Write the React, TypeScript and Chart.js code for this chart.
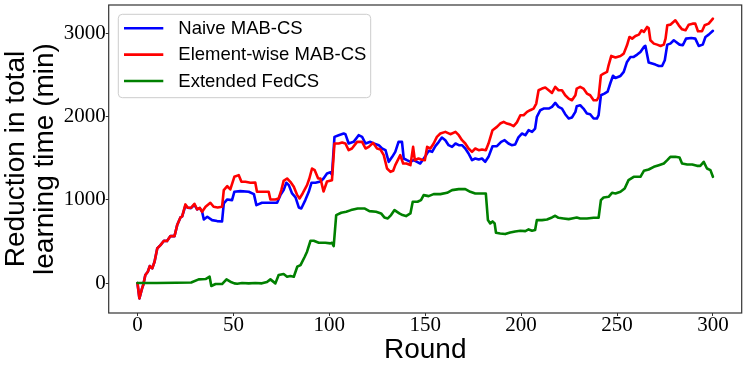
import React, { useEffect, useRef } from "react";
import { Chart, registerables } from "chart.js";

Chart.register(...registerables);

const seriesLabels = ["Naive MAB-CS", "Element-wise MAB-CS", "Extended FedCS"];
const seriesColors = ["#0000ff", "#ff0000", "#008000"];

const xTicks = [0, 50, 100, 150, 200, 250, 300];
const yTicks = [0, 1000, 2000, 3000];

const naiveRounds = [0,1,2.4,3,4.1,5.4,6.4,7.7,8.9,10.3,12,13.8,15.4,17.2,19.3,20.7,22.4,23.3,25,26.2,27.9,29.7,31.1,32.5,33.7,34.6,36.4,38.9,41.5,44.1,45,46.8,49.3,50.5,53.6,58,60.7,62,64.9,68.4,72.8,74.5,76.2,77.6,78.9,80.6,82.4,84.1,85.4,87.5,89.3,90.7,92.8,95.4,97,98.8,100.6,101.4,102.7,104.9,107.5,108.4,110.1,112.7,115.3,117.1,118.9,121.4,123.2,125.8,127.5,129.3,131,132.8,134.4,136.1,137.9,138.8,140.5,142.3,143.9,145.7,147.4,149.9,151.8,153.6,155.3,157.1,158.7,160.5,162.2,164,165.8,167.5,169.2,170.9,172.6,174.4,176.1,177.9,179.6,181.3,183,185.1,187.4,189.6,191.4,193.4,195.1,196.9,198.6,200.4,202.2,203.9,205.7,207.3,208.2,210,211.7,214.4,216.1,217.8,219.5,221.3,223,224.8,226.5,228.3,229,230.8,232.5,234.3,236,237.8,239.5,240.4,241.6,243.4,245.1,246.5,247.9,249.2,251.8,253.5,255.2,257,258.7,260.5,262.2,264,264.8,266.5,268.3,270,271.8,273.5,274.9,276.2,277.8,279.6,280.8,282.6,284.3,286,288.7,290.8,292.6,294.7,296.1,297.8,300];
const naiveValues = [0,-184,-64,-24,96,136,204,176,256,416,456,508,504,564,564,696,788,800,930,904,900,940,884,900,856,764,796,756,744,740,956,1004,996,1096,1104,1096,1068,936,964,964,964,1056,1116,1204,1176,1076,1028,908,896,996,1096,1204,1204,1220,1256,1316,1330,1300,1756,1776,1796,1788,1676,1696,1776,1756,1676,1696,1676,1656,1616,1596,1456,1516,1576,1696,1696,1496,1476,1456,1476,1456,1436,1516,1588,1576,1644,1696,1748,1716,1656,1636,1676,1656,1656,1616,1556,1476,1496,1484,1496,1456,1516,1644,1644,1696,1716,1676,1656,1664,1750,1796,1776,1836,1816,1856,1996,2076,2096,2096,2116,2164,2116,2096,2028,1976,1988,2056,2124,2136,2096,2036,2028,1976,1976,2016,2256,2276,2300,2400,2490,2464,2488,2536,2656,2716,2716,2744,2776,2836,2848,2648,2636,2624,2608,2608,2676,2864,2876,2916,2896,2864,2856,2936,2944,2936,2848,2864,2956,2984,3030];

const elementRounds = [0,1,2.4,3,4.1,5.4,6.4,7.7,8.9,10.3,12,13.8,15.4,17.2,19.3,20.7,22.4,23.3,25,26.2,27.9,29.7,31.1,32.5,33.7,35.5,38,39.7,41.8,44.1,45,46.8,48.4,50.5,52.8,54.2,56.3,58.9,61.4,62.3,64.9,68.4,69.3,71.9,73.6,75,76.2,78,79.7,81.5,83.3,84.5,86.1,88.4,89.6,91,92.4,94.2,95.4,97,98.8,101.4,102.7,104.9,106.7,108.4,110.1,111.8,114.5,117.1,118.9,120.6,122.8,124.9,126.7,128.4,130.1,131.9,133.3,134.4,137,138.5,140.2,142.3,143.7,144.6,146.5,148.3,149.8,151,152.7,154.4,156.1,157.9,160.5,163.1,165.8,167.5,169.2,170.9,172.6,174.4,176.1,177.9,179.6,181.6,183,185.1,187.4,189.1,190.9,192.6,194.3,196.1,197.8,199.6,201.3,203.1,204.7,206.5,207.9,209.1,210.9,212.6,214.4,216.1,217.8,219.5,221.3,223,224.8,226.5,228.3,229,230.8,232.5,234.3,236,237.8,239.5,240.4,241.6,243,244.8,245.6,247,249.2,251.8,253.5,255.2,256.5,257.9,259.6,261.4,262.8,264,265.7,266.5,267.4,269.2,270.9,272.7,274.4,275.3,276.2,277.8,280.4,282.2,283.9,285.7,287.4,289.4,290.8,292.2,294.3,295.7,297.8,300];
const elementValues = [0,-184,-64,-24,96,136,204,176,256,416,456,508,504,564,564,696,788,800,944,904,904,952,884,904,856,916,964,916,908,916,1116,1164,1124,1276,1296,1216,1216,1204,1208,1096,1096,1096,1004,1004,1016,1116,1228,1256,1216,1156,1056,1016,1076,1176,1256,1376,1356,1256,1256,1100,1220,1236,1676,1676,1688,1676,1596,1616,1696,1696,1616,1636,1684,1616,1604,1536,1376,1336,1348,1416,1536,1436,1436,1416,1636,1476,1496,1480,1476,1636,1616,1676,1756,1796,1816,1788,1816,1776,1716,1676,1616,1576,1616,1596,1604,1596,1676,1836,1876,1916,1936,1916,1906,1884,1930,2016,2016,2056,2076,2096,2156,2316,2336,2348,2316,2284,2356,2316,2316,2256,2216,2196,2256,2336,2356,2336,2276,2256,2196,2196,2236,2496,2516,2536,2616,2728,2710,2728,2756,2856,2956,2936,2968,2984,3036,3016,3076,3064,2916,2876,2864,2848,2864,2936,3096,3104,3156,3096,3048,3036,3104,3116,3116,3024,3024,3096,3116,3176];

const fedcsRounds = [0,10,20,28,31.9,35.5,37.6,38.5,40.7,44.1,46.4,48.4,50.5,52,54.5,58,61.4,64.9,67.5,69.3,71.9,73.6,76.2,78,79.7,81.5,83.3,85,87.2,88.4,90.2,91.9,94.5,97.9,100.6,101.4,102.3,103.6,106.2,108.8,111.3,114.8,118.3,120.9,124.4,127,128.7,130.5,132.2,134,136.5,138.2,140,142.3,143.5,146,147.8,149.2,151.8,154.4,157.9,161.4,164,167.5,170.9,173.5,176.1,179.6,181.6,182.7,183.9,185.1,186.2,186.9,189.1,191.7,194.3,196.9,199.6,202.2,203.9,205.7,207.3,208.2,210.9,213.5,216.1,217.8,219.5,222.1,224.8,226.5,229,230.8,234.3,237.8,240.4,241.6,243,245.6,247.4,249.2,251.8,254,256,258.7,262.2,264,266.5,269.2,271.8,274.4,276.2,277.8,280.4,282.6,283.9,286.6,289.2,291.7,293.4,295.2,296.9,298.7,300];
const fedcsValues = [0,0,4,6,44,48,76,-36,-12,-12,44,16,-4,-8,0,-4,0,-4,12,44,-4,96,108,76,84,76,196,216,316,376,508,508,484,484,476,484,444,816,844,856,876,896,896,864,856,836,788,776,816,876,836,816,804,836,976,976,996,1056,1044,1068,1068,1084,1116,1128,1128,1096,1076,1076,1076,756,716,740,716,604,596,588,606,620,628,624,644,628,636,756,756,764,788,808,784,776,768,776,788,776,776,784,784,996,1028,1036,1084,1076,1096,1136,1236,1276,1276,1348,1364,1396,1416,1436,1476,1516,1516,1508,1436,1424,1424,1408,1408,1456,1376,1356,1276];

const seriesRounds = [naiveRounds, elementRounds, fedcsRounds];
const seriesValues = [naiveValues, elementValues, fedcsValues];
const seriesOrder = [3, 2, 1];

const SANS = "'Liberation Sans', Arial, sans-serif";
const SERIF = "'Liberation Serif', 'DejaVu Serif', serif";

const framePlugin = {
  id: "frame",
  afterDraw(chart: any) {
    const { ctx, chartArea } = chart;
    ctx.save();
    ctx.strokeStyle = "#333333";
    ctx.lineWidth = 1.2;
    ctx.strokeRect(chartArea.left, chartArea.top, chartArea.right - chartArea.left, chartArea.bottom - chartArea.top);
    ctx.restore();
  },
};

const legendPlugin = {
  id: "boxLegend",
  afterDatasetsDraw(chart: any) {
    const { ctx, chartArea } = chart;
    const bx = chartArea.left + 9.6;
    const by = chartArea.top + 9.3;
    const bw = 252.4;
    const bh = 83.4;
    const r = 4;
    ctx.save();
    ctx.beginPath();
    ctx.moveTo(bx + r, by);
    ctx.lineTo(bx + bw - r, by);
    ctx.quadraticCurveTo(bx + bw, by, bx + bw, by + r);
    ctx.lineTo(bx + bw, by + bh - r);
    ctx.quadraticCurveTo(bx + bw, by + bh, bx + bw - r, by + bh);
    ctx.lineTo(bx + r, by + bh);
    ctx.quadraticCurveTo(bx, by + bh, bx, by + bh - r);
    ctx.lineTo(bx, by + r);
    ctx.quadraticCurveTo(bx, by, bx + r, by);
    ctx.closePath();
    ctx.fillStyle = "rgba(255,255,255,0.8)";
    ctx.fill();
    ctx.strokeStyle = "#cccccc";
    ctx.lineWidth = 1;
    ctx.stroke();
    chart.data.datasets.forEach((ds: any, i: number) => {
      const yy = by + 14 + i * 26.35;
      ctx.beginPath();
      ctx.moveTo(bx + 5.7, yy);
      ctx.lineTo(bx + 45, yy);
      ctx.strokeStyle = ds.borderColor;
      ctx.lineWidth = 2.6;
      ctx.stroke();
      ctx.fillStyle = "#000000";
      ctx.font = `18.5px ${SANS}`;
      ctx.textAlign = "left";
      ctx.textBaseline = "middle";
      ctx.fillText(ds.label, bx + 60, yy + 0.5);
    });
    ctx.restore();
  },
};

export default function App() {
  const canvasRef = useRef<HTMLCanvasElement | null>(null);

  useEffect(() => {
    const canvas = canvasRef.current;
    if (!canvas) return;
    const datasets = seriesLabels.map((label, i) => ({
      label,
      data: seriesRounds[i].map((r, j) => ({ x: r, y: seriesValues[i][j] })),
      borderColor: seriesColors[i],
      backgroundColor: seriesColors[i],
      borderWidth: 2.6,
      pointRadius: 0,
      tension: 0,
      fill: false,
      order: seriesOrder[i],
      borderJoinStyle: "round" as const,
      borderCapStyle: "round" as const,
    }));
    const chart = new Chart(canvas, {
      type: "line",
      data: { datasets },
      plugins: [framePlugin, legendPlugin],
      options: {
        animation: false,
        responsive: false,
        devicePixelRatio: 1,
        layout: { padding: { top: 5, right: 5.3, left: 0, bottom: 0 } },
        plugins: { legend: { display: false }, tooltip: { enabled: false } },
        scales: {
          x: {
            type: "linear",
            min: -15,
            max: 315,
            afterBuildTicks: (scale: any) => {
              scale.ticks = xTicks.map((v) => ({ value: v }));
            },
            afterFit: (scale: any) => {
              scale.height = 58;
              scale.paddingLeft = 0;
              scale.paddingRight = 0;
            },
            grid: { drawOnChartArea: false, drawTicks: true, tickLength: 3, color: "#333333" },
            border: { display: false },
            ticks: {
              color: "#000000",
              font: { family: SERIF, size: 21, lineHeight: 1 },
              padding: -1,
              maxRotation: 0,
              callback: (v: any) => String(v),
            },
            title: {
              display: true,
              text: "Round",
              color: "#000000",
              font: { family: SANS, size: 28, lineHeight: 1.2 },
              padding: { top: 0, bottom: 3.5 },
            },
          },
          y: {
            type: "linear",
            min: -360,
            max: 3340,
            afterBuildTicks: (scale: any) => {
              scale.ticks = yTicks.map((v) => ({ value: v }));
            },
            afterFit: (scale: any) => {
              scale.width = 108.7;
              scale.paddingTop = 0;
              scale.paddingBottom = 0;
            },
            grid: { drawOnChartArea: false, drawTicks: true, tickLength: 3, color: "#333333" },
            border: { display: false },
            ticks: {
              color: "#000000",
              font: { family: SERIF, size: 21, lineHeight: 1 },
              padding: 0,
              callback: (v: any) => String(v),
            },
            title: {
              display: true,
              text: ["Reduction in total", "learning time (min)"],
              color: "#000000",
              font: { family: SANS, size: 28, lineHeight: 1.02 },
              padding: { top: 2, bottom: 0 },
            },
          },
        },
      },
    } as any);
    return () => chart.destroy();
  }, []);

  return (
    <div style={{ position: "absolute", left: 0, top: 0, width: 747, height: 371, background: "#ffffff" }}>
      <canvas ref={canvasRef} width={747} height={371} style={{ display: "block" }} />
    </div>
  );
}
